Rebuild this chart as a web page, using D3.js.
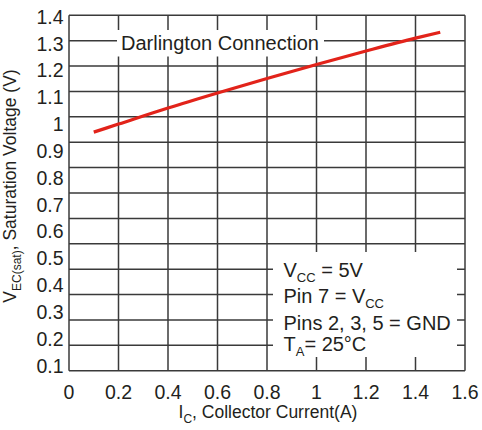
<!DOCTYPE html>
<html>
<head>
<meta charset="utf-8">
<script src="https://cdn.jsdelivr.net/npm/d3@7"></script>
<style>
  body { margin: 0; background: #fff; }
  text { font-family: "Liberation Sans", Arial, sans-serif; fill: #231f20; }
</style>
</head>
<body>
<svg id="chart" width="482" height="430"></svg>
<script>
// data
const currentA = [0.1, 0.2, 0.4, 0.6, 0.8, 1.0, 1.2, 1.4, 1.5];
const satVoltage = [0.97, 1.0, 1.06, 1.116, 1.17, 1.222, 1.272, 1.32, 1.342];
const xTicks = [0, 0.2, 0.4, 0.6, 0.8, 1, 1.2, 1.4, 1.6];
const yTicks = [0.1, 0.2, 0.3, 0.4, 0.5, 0.6, 0.7, 0.8, 0.9, 1, 1.1, 1.2, 1.3, 1.4];
const gridRows = 14;

const svg = d3.select("svg#chart");
const frame = { left: 69, right: 465, top: 15.3, bottom: 370.7 };
const gridColor = "#3a3a3a";

const x = d3.scaleLinear().domain([0, 1.6]).range([frame.left, frame.right]);
// tick labels on the original are spread a bit differently than the grid rows
const y = d3.scaleLinear().domain([0.1, 1.4]).range([365.7, 16.7]);
const yGrid = d3.scaleLinear().domain([0, gridRows]).range([frame.bottom, frame.top]);

//grid lines
const grid = svg.append("g").attr("id", "grid");
grid.selectAll("line.v").data(xTicks).join("line").attr("class", "v")
  .attr("x1", d => x(d)).attr("x2", d => x(d))
  .attr("y1", frame.top).attr("y2", frame.bottom)
  .attr("stroke", gridColor).attr("stroke-width", 1.5);
grid.selectAll("line.h").data(d3.range(gridRows + 1)).join("line").attr("class", "h")
  .attr("x1", frame.left).attr("x2", frame.right)
  .attr("y1", d => yGrid(d)).attr("y2", d => yGrid(d))
  .attr("stroke", gridColor).attr("stroke-width", 1.5);

//tick labels
svg.append("g").selectAll("text").data(xTicks).join("text")
  .attr("x", d => x(d)).attr("y", 398.5)
  .attr("text-anchor", "middle").style("font-size", "19.5px")
  .text(d => d);
svg.append("g").selectAll("text").data(yTicks).join("text")
  .attr("x", 63.5).attr("y", d => y(d)).attr("dy", "0.36em")
  .attr("text-anchor", "end").style("font-size", "19.5px")
  .text(d => d);

//axis titles
const xTitle = svg.append("text").attr("x", 268).attr("y", 418)
  .attr("text-anchor", "middle").style("font-size", "17.5px");
xTitle.append("tspan").text("I");
xTitle.append("tspan").attr("dy", 5).style("font-size", "12px").text("C");
xTitle.append("tspan").attr("dy", -5).text(", Collector Current(A)");

const yTitle = svg.append("text").attr("transform", "translate(15.5,186) rotate(-90)")
  .attr("text-anchor", "middle").style("font-size", "17.5px");
yTitle.append("tspan").text("V");
yTitle.append("tspan").attr("dy", 5).style("font-size", "12px").text("EC(sat)");
yTitle.append("tspan").attr("dy", -5).text(", Saturation Voltage (V)");

//title box
svg.append("rect").attr("x", 117).attr("y", 30).attr("width", 207).attr("height", 26.5).attr("fill", "#fff");
svg.append("text").attr("x", 121).attr("y", 49.5).style("font-size", "20px").text("Darlington Connection");

//conditions box
svg.append("rect").attr("x", 273).attr("y", 252).attr("width", 184).attr("height", 105).attr("fill", "#fff");
const cond = svg.append("g").style("font-size", "20px");
function condLine(yPos, parts) {
  const t = cond.append("text").attr("x", 283.5).attr("y", yPos);
  parts.forEach(p => {
    if (p.sub) {
      t.append("tspan").attr("dy", 5).style("font-size", "13px").text(p.sub);
    } else {
      t.append("tspan").attr("dy", p.after ? -5 : 0).text(p.t);
    }
  });
}
condLine(276.7, [{ t: "V" }, { sub: "CC" }, { t: " = 5V", after: true }]);
condLine(303.3, [{ t: "Pin 7 = V" }, { sub: "CC" }]);
condLine(330, [{ t: "Pins 2, 3, 5 = GND" }]);
condLine(350.7, [{ t: "T" }, { sub: "A" }, { t: "= 25°C", after: true }]);

//curve
const line = d3.line().x((d, i) => x(currentA[i])).y(d => y(d)).curve(d3.curveMonotoneX);
svg.append("path").datum(satVoltage).attr("d", line)
  .attr("fill", "none").attr("stroke", "#e2231a").attr("stroke-width", 3.2);
</script>
</body>
</html>
